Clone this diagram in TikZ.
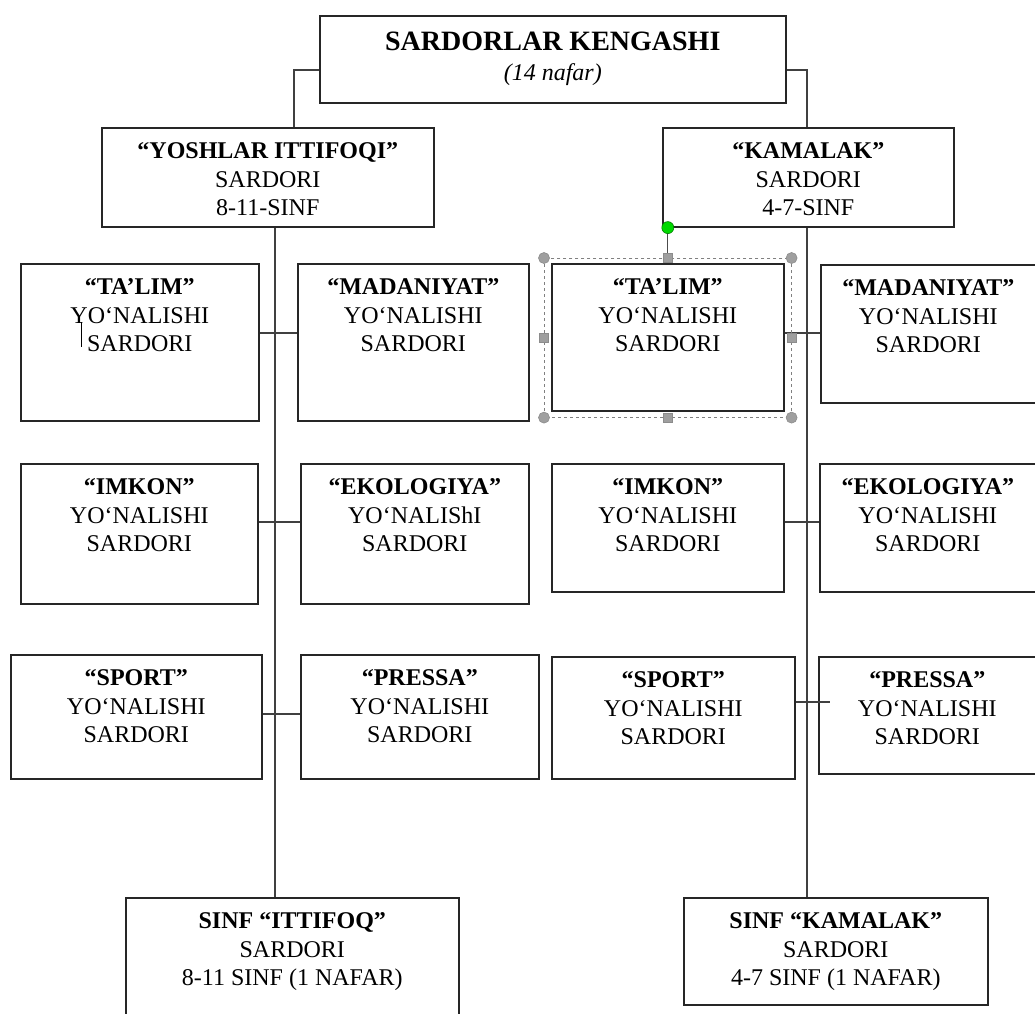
\documentclass[tikz,border=0pt]{standalone}
\usepackage{fontspec}
\setmainfont{Liberation Serif}
\newcommand{\boxtxt}[4][31]{\parbox[t][#3pt][t]{#2pt}{\centering\rule{0pt}{#1pt}#4}}

\begin{document}
\begin{tikzpicture}[x=1pt, y=-1pt,
    box/.style={draw=black!85, line width=1.6pt, inner sep=0pt, anchor=north west,
                font=\fontsize{24}{28.5}\selectfont},
    link/.style={draw=black!75, line width=1.4pt},
    handle/.style={fill=gray!75, draw=gray!90, line width=0.6pt}]

    % page
    \fill[white] (0,0) rectangle (1035,1013);
    \clip (0,0) rectangle (1035,1013);

    % council
    \node[box] (top) at (319,15) {\boxtxt[35]{466}{87}{{\fontsize{28}{30}\selectfont\bfseries SARDORLAR KENGASHI}\\[1.5pt]\textit{(14 nafar)}}};

    % two wings
    \node[box] (yosh) at (101,127) {\boxtxt{332}{99}{\textbf{“YOSHLAR ITTIFOQI”}\\SARDORI\\8-11-SINF}};
    \node[box] (kam) at (662,127) {\boxtxt{291}{99}{\textbf{“KAMALAK”}\\SARDORI\\4-7-SINF}};

    % row 1
    \node[box] (ltal) at (20,263) {\boxtxt{238}{157}{\textbf{“TA’LIM”}\\YO‘NALISHI\\SARDORI}};
    \node[box] (lmad) at (297,263) {\boxtxt{231}{157}{\textbf{“MADANIYAT”}\\YO‘NALISHI\\SARDORI}};
    \node[box] (rtal) at (551,263) {\boxtxt{232}{147}{\textbf{“TA’LIM”}\\YO‘NALISHI\\SARDORI}};
    \node[box] (rmad) at (820,264) {\boxtxt{215}{138}{\textbf{“MADANIYAT”}\\YO‘NALISHI\\SARDORI}};

    % row 2
    \node[box] (limk) at (20,463) {\boxtxt{237}{140}{\textbf{“IMKON”}\\YO‘NALISHI\\SARDORI}};
    \node[box] (leko) at (300,463) {\boxtxt{228}{140}{\textbf{“EKOLOGIYA”}\\YO‘NALIShI\\SARDORI}};
    \node[box] (rimk) at (551,463) {\boxtxt{232}{128}{\textbf{“IMKON”}\\YO‘NALISHI\\SARDORI}};
    \node[box] (reko) at (819,463) {\boxtxt{216}{128}{\textbf{“EKOLOGIYA”}\\YO‘NALISHI\\SARDORI}};

    % row 3
    \node[box] (lspo) at (10,654) {\boxtxt{251}{124}{\textbf{“SPORT”}\\YO‘NALISHI\\SARDORI}};
    \node[box] (lpre) at (300,654) {\boxtxt{238}{124}{\textbf{“PRESSA”}\\YO‘NALISHI\\SARDORI}};
    \node[box] (rspo) at (551,656) {\boxtxt{243}{122}{\textbf{“SPORT”}\\YO‘NALISHI\\SARDORI}};
    \node[box] (rpre) at (818,656) {\boxtxt{217}{117}{\textbf{“PRESSA”}\\YO‘NALISHI\\SARDORI}};

    % class leaders
    \node[box] (lsinf) at (125,897) {\boxtxt{333}{140}{\textbf{SINF “ITTIFOQ”}\\SARDORI\\8-11 SINF (1 NAFAR)}};
    \node[box] (rsinf) at (683,897) {\boxtxt{304}{107}{\textbf{SINF “KAMALAK”}\\SARDORI\\4-7 SINF (1 NAFAR)}};

    % spines and rows
    \coordinate (ls) at (275,0);
    \coordinate (rs) at (807,0);
    \coordinate (r1) at (0,333);
    \coordinate (r2) at (0,522);
    \coordinate (r3l) at (0,714);
    \coordinate (r3r) at (0,702);

    \draw[link] ([yshift=-10.5pt]top.west) -| ([xshift=26pt]yosh.north);
    \draw[link] ([yshift=-10.5pt]top.east) -| (kam.north -| rs);
    \draw[link] (yosh.south -| ls) -- (lsinf.north -| ls);
    \draw[link] (kam.south -| rs) -- (rsinf.north -| rs);

    \draw[link] (ltal.east |- r1) -- (lmad.west |- r1);
    \draw[link] (rtal.east |- r1) -- (rmad.west |- r1);
    \draw[link] (limk.east |- r2) -- (leko.west |- r2);
    \draw[link] (rimk.east |- r2) -- (reko.west |- r2);
    \draw[link] (lspo.east |- r3l) -- (lpre.west |- r3l);
    \draw[link] (rspo.east |- r3r) -- ([xshift=12pt]rpre.west |- r3r);

    % selection frame
    \coordinate (snw) at ([shift={(-7pt,5pt)}]rtal.north west);
    \coordinate (sse) at ([shift={(7pt,-6pt)}]rtal.south east);
    \draw[gray, dashed, line width=0.8pt] (snw) rectangle (sse);
    \draw[gray!60!black, line width=1pt] (rtal.north |- snw) -- (rtal.north |- kam.south);
    \foreach \c in {snw, sse, snw |- sse, sse |- snw}
        \filldraw[handle] (\c) circle (5.5pt);
    \foreach \c in {rtal.north |- snw, rtal.south |- sse, snw |- rtal.west, sse |- rtal.east}
        \filldraw[handle] (\c) ++(-4.5pt,-4.5pt) rectangle ++(9pt,9pt);
    \filldraw[fill=green!85!black, draw=green!50!black, line width=0.6pt] (rtal.north |- kam.south) circle (6pt);

    % text cursor
    \draw[line width=1pt] (81,322) -- (81,347);
\end{tikzpicture}
\end{document}
